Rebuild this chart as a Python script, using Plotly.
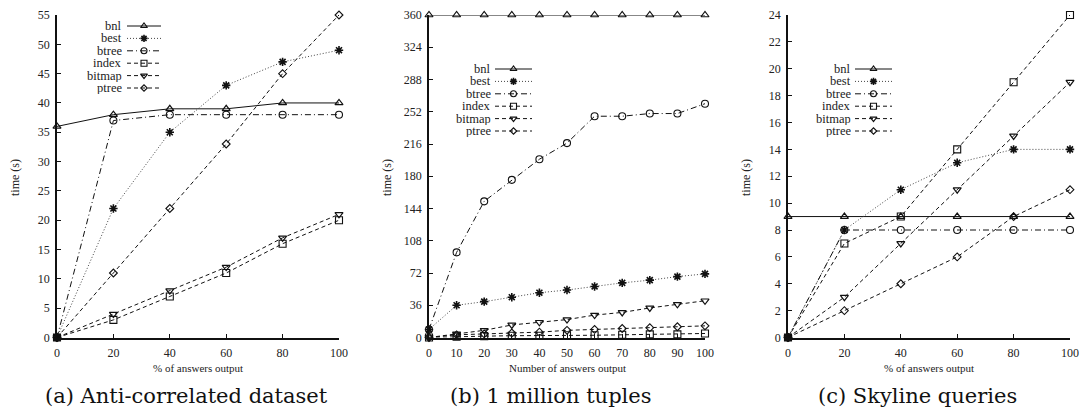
import plotly.graph_objects as go

W, H = 1080, 412

SERIES = ["bnl", "best", "btree", "index", "bitmap", "ptree"]

# (a) Anti-correlated dataset
pct_a = [0, 20, 40, 60, 80, 100]
bnl_a = [36, 38, 39, 39, 40, 40]
best_a = [0, 22, 35, 43, 47, 49]
btree_a = [0, 37, 38, 38, 38, 38]
index_a = [0, 3, 7, 11, 16, 20]
bitmap_a = [0, 4, 8, 12, 17, 21]
ptree_a = [0, 11, 22, 33, 45, 55]
yticks_a = [0, 5, 10, 15, 20, 25, 30, 35, 40, 45, 50, 55]
xticks_a = [0, 20, 40, 60, 80, 100]

# (b) 1 million tuples
num_b = [0, 10, 20, 30, 40, 50, 60, 70, 80, 90, 100]
bnl_b = [360, 360, 360, 360, 360, 360, 360, 360, 360, 360, 360]
best_b = [9, 36, 40, 45, 50, 53, 57, 61, 64, 68, 71]
btree_b = [9, 95, 152, 176, 199, 217, 247, 247, 250, 250, 261]
index_b = [0, 1, 1.5, 2, 2, 2.5, 2.5, 3, 3.5, 3.5, 4.5]
bitmap_b = [0, 4, 8, 14, 17, 20, 25, 28, 33, 37, 41]
ptree_b = [0, 3, 4, 5, 6, 8, 9, 10, 11, 12, 13]
yticks_b = [0, 36, 72, 108, 144, 180, 216, 252, 288, 324, 360]
xticks_b = [0, 10, 20, 30, 40, 50, 60, 70, 80, 90, 100]

# (c) Skyline queries
pct_c = [0, 20, 40, 60, 80, 100]
bnl_c = [9, 9, 9, 9, 9, 9]
best_c = [0, 8, 11, 13, 14, 14]
btree_c = [0, 8, 8, 8, 8, 8]
index_c = [0, 7, 9, 14, 19, 24]
bitmap_c = [0, 3, 7, 11, 15, 19]
ptree_c = [0, 2, 4, 6, 9, 11]
yticks_c = [0, 2, 4, 6, 8, 10, 12, 14, 16, 18, 20, 22, 24]
xticks_c = [0, 20, 40, 60, 80, 100]

xtitles = ["% of answers output", "Number of answers output", "% of answers output"]
captions = ["(a) Anti-correlated dataset", "(b) 1 million tuples", "(c) Skyline queries"]
caption_cx = [187, 551, 917]

# line / marker style for each series
STYLE = {
    "bnl":    dict(dash="solid",            color="#111", symbol="triangle-up-open",   msize=7, mlw=1.2),
    "best":   dict(dash="1px,2px",          color="#444", symbol="asterisk-open",      msize=7, mlw=1.6),
    "btree":  dict(dash="6px,3px,1px,3px",  color="#111", symbol="circle-open",        msize=7, mlw=1.1),
    "index":  dict(dash="4px,3px",          color="#111", symbol="square-open",        msize=7, mlw=1.1),
    "bitmap": dict(dash="4px,3px",          color="#111", symbol="triangle-down-open", msize=7, mlw=1.2),
    "ptree":  dict(dash="4px,3px",          color="#111", symbol="diamond-open",       msize=6, mlw=1.1),
}

# plot areas in pixels: (left, right), shared top/bottom
PANEL_X = [(57, 339), (429, 705), (788, 1070)]
TOP, BOTTOM = 15, 337.5

panels = [
    (pct_a, [bnl_a, best_a, btree_a, index_a, bitmap_a, ptree_a], yticks_a, xticks_a),
    (num_b, [bnl_b, best_b, btree_b, index_b, bitmap_b, ptree_b], yticks_b, xticks_b),
    (pct_c, [bnl_c, best_c, btree_c, index_c, bitmap_c, ptree_c], yticks_c, xticks_c),
]

# legend placement per panel: label right edge, key start/end, first row y
LEGEND_POS = [(123, 127, 161, 26), (492, 495, 532, 69), (852, 855, 892, 69)]
ROW_STEP = 12.4

TICK_FONT = dict(family="Liberation Serif", size=12, color="#222")

fig = go.Figure()
layout = dict(
    width=W, height=H, margin=dict(l=0, r=0, t=0, b=0, autoexpand=False),
    paper_bgcolor="white", plot_bgcolor="rgba(0,0,0,0)", showlegend=False,
)
annotations = []

for i, (xs, ys_list, yticks, xticks) in enumerate(panels):
    n = i + 1
    xa = "x" if n == 1 else f"x{n}"
    ya = "y" if n == 1 else f"y{n}"
    for name, ys in zip(SERIES, ys_list):
        st = STYLE[name]
        fig.add_trace(go.Scatter(
            x=xs, y=ys, xaxis=xa, yaxis=ya, mode="lines+markers", name=name,
            line=dict(color=st["color"], width=1, dash=st["dash"]),
            marker=dict(symbol=st["symbol"], size=st["msize"], color="#111",
                        line=dict(color="#111", width=st["mlw"])),
            cliponaxis=False, hoverinfo="skip",
        ))
    x0, x1 = PANEL_X[i]
    axis_common = dict(
        showgrid=False, zeroline=False, showline=True, linecolor="#111", linewidth=1.5,
        ticks="inside", ticklen=4, tickwidth=1, tickcolor="#111",
        tickfont=TICK_FONT, mirror=False, fixedrange=True, automargin=False,
    )
    layout[f"xaxis{'' if n == 1 else n}"] = dict(
        axis_common, domain=[x0 / W, x1 / W], range=[xticks[0], xticks[-1]],
        tickvals=xticks, anchor=ya, ticklabelstandoff=3,
    )
    layout[f"yaxis{'' if n == 1 else n}"] = dict(
        axis_common, domain=[1 - BOTTOM / H, 1 - TOP / H], range=[yticks[0], yticks[-1]],
        tickvals=yticks, anchor=xa, ticklabelstandoff=3,
    )
    # axis titles
    annotations.append(dict(
        text=xtitles[i], x=(x0 + x1) / 2 / W, y=1 - 368 / H, xref="paper", yref="paper",
        xanchor="center", yanchor="middle", showarrow=False,
        font=dict(family="Liberation Serif", size=11, color="#222"),
    ))
    annotations.append(dict(
        text="time (s)", x=(x0 - 42) / W, y=1 - 178 / H, xref="paper", yref="paper",
        xanchor="center", yanchor="middle", showarrow=False, textangle=-90,
        font=dict(family="Liberation Serif", size=12, color="#222"),
    ))
    # caption under each panel
    annotations.append(dict(
        text=captions[i], x=caption_cx[i] / W, y=1 - 396 / H, xref="paper", yref="paper",
        xanchor="center", yanchor="middle", showarrow=False,
        font=dict(family="DejaVu Serif", size=21, color="#111"),
    ))
    # legend: label on the left, key sample on the right
    lab_r, k0, k1, row0 = LEGEND_POS[i]
    for r, name in enumerate(SERIES):
        st = STYLE[name]
        yy = row0 + r * ROW_STEP
        annotations.append(dict(
            text=name, x=lab_r / W, y=1 - yy / H, xref="paper", yref="paper",
            xanchor="right", yanchor="middle", showarrow=False,
            height=12, borderpad=0,
            font=dict(family="Liberation Serif", size=12.5, color="#222"),
        ))
        fig.add_trace(go.Scatter(
            x=[k0, k1], y=[yy, yy], xaxis="x4", yaxis="y4", mode="lines",
            line=dict(color=st["color"], width=1, dash=st["dash"]), hoverinfo="skip",
        ))
        fig.add_trace(go.Scatter(
            x=[(k0 + k1) / 2], y=[yy], xaxis="x4", yaxis="y4", mode="markers",
            marker=dict(symbol=st["symbol"], size=st["msize"] - 1, color="#111",
                        line=dict(color="#111", width=st["mlw"])),
            hoverinfo="skip",
        ))

# full-page pixel overlay used to place the legend keys
layout["xaxis4"] = dict(domain=[0, 1], range=[0, W], visible=False, fixedrange=True,
                        anchor="y4", automargin=False)
layout["yaxis4"] = dict(domain=[0, 1], range=[H, 0], visible=False, fixedrange=True,
                        anchor="x4", automargin=False)
layout["annotations"] = annotations

fig.update_layout(**layout)
fig.write_html("out.html")
